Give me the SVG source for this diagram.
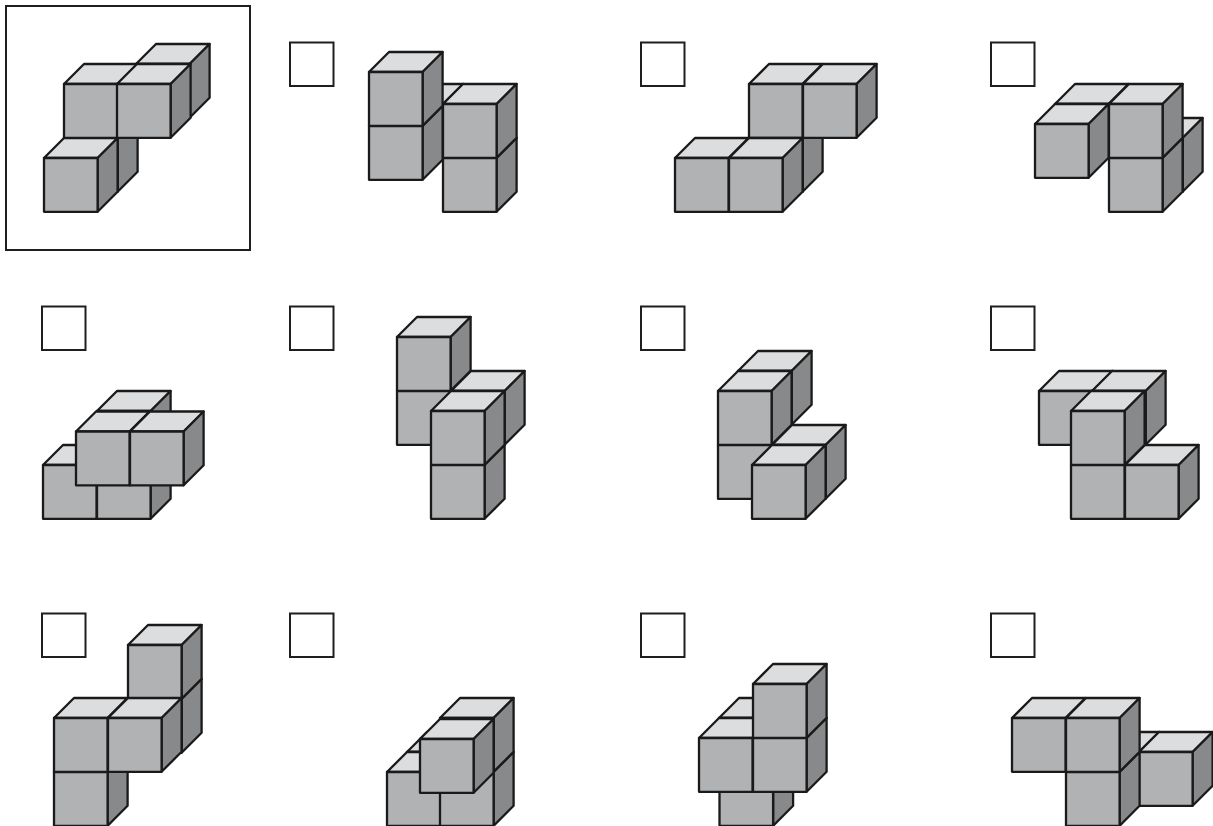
<svg xmlns="http://www.w3.org/2000/svg" xmlns:xlink="http://www.w3.org/1999/xlink" width="1213" height="826" viewBox="0 0 1213 826">
<style>
.f{fill:#b1b2b4}.t{fill:#dcddde}.s{fill:#88898b}
.c path{stroke:#1a1a1a;stroke-width:2.3;stroke-linejoin:round}
.b{fill:#fff;stroke:#1f1f1f;stroke-width:2}
.r{fill:#fff;stroke:#1f1f1f;stroke-width:2}
</style>
<defs>
<g id="c" class="c">
<path class="t" d="M0 0L20 -20H73.6L53.6 0Z"/>
<path class="s" d="M53.6 0L73.6 -20V33.8L53.6 53.8Z"/>
<path class="f" d="M0 0H53.6V53.8H0Z"/>
</g>
</defs>
<rect width="1213" height="826" fill="#fff"/>
<g id="reference"><rect class="r" x="6" y="6" width="244" height="244"/>
<use href="#c" x="136" y="64"/><use href="#c" x="64" y="138"/><use href="#c" x="44" y="158"/><use href="#c" x="64" y="84"/><use href="#c" x="117" y="84"/></g>
<g id="option-1"><rect class="b" x="290" y="42.5" width="43.5" height="43.5"/>
<use href="#c" x="389.5" y="104"/><use href="#c" x="443" y="158"/><use href="#c" x="443" y="104"/><use href="#c" x="369" y="126"/><use href="#c" x="369" y="72"/></g>
<g id="option-2"><rect class="b" x="641" y="42.5" width="43.5" height="43.5"/>
<use href="#c" x="749" y="138"/><use href="#c" x="749" y="84"/><use href="#c" x="803" y="84"/><use href="#c" x="675" y="158"/><use href="#c" x="729" y="158"/></g>
<g id="option-3"><rect class="b" x="991" y="42.5" width="43.5" height="43.5"/>
<use href="#c" x="1129" y="138"/><use href="#c" x="1055" y="104"/><use href="#c" x="1109" y="158"/><use href="#c" x="1109" y="104"/><use href="#c" x="1035" y="124"/></g>
<g id="option-4"><rect class="b" x="42" y="306.5" width="43.5" height="43.5"/>
<use href="#c" x="97" y="411"/><use href="#c" x="43" y="465"/><use href="#c" x="97" y="465"/><use href="#c" x="76" y="431.5"/><use href="#c" x="130" y="431.5"/></g>
<g id="option-5"><rect class="b" x="290" y="306.5" width="43.5" height="43.5"/>
<use href="#c" x="397" y="391"/><use href="#c" x="397" y="337"/><use href="#c" x="451" y="391"/><use href="#c" x="431" y="465"/><use href="#c" x="431" y="411"/></g>
<g id="option-6"><rect class="b" x="641" y="306.5" width="43.5" height="43.5"/>
<use href="#c" x="738" y="371"/><use href="#c" x="718" y="445"/><use href="#c" x="718" y="391"/><use href="#c" x="772" y="445"/><use href="#c" x="752" y="465"/></g>
<g id="option-7"><rect class="b" x="991" y="306.5" width="43.5" height="43.5"/>
<use href="#c" x="1039" y="391"/><use href="#c" x="1092" y="391"/><use href="#c" x="1071" y="465"/><use href="#c" x="1125" y="465"/><use href="#c" x="1071" y="411"/></g>
<g id="option-8"><rect class="b" x="42" y="613.5" width="43.5" height="43.5"/>
<use href="#c" x="128" y="699"/><use href="#c" x="128" y="645"/><use href="#c" x="54" y="772"/><use href="#c" x="54" y="718"/><use href="#c" x="108" y="718"/></g>
<g id="option-9"><rect class="b" x="290" y="613.5" width="43.5" height="43.5"/>
<use href="#c" x="407" y="752"/><use href="#c" x="387" y="772"/><use href="#c" x="440" y="772"/><use href="#c" x="440" y="718"/><use href="#c" x="420" y="739"/></g>
<g id="option-10"><rect class="b" x="641" y="613.5" width="43.5" height="43.5"/>
<use href="#c" x="719.5" y="772"/><use href="#c" x="719" y="718"/><use href="#c" x="699" y="738"/><use href="#c" x="753" y="738"/><use href="#c" x="753" y="684"/></g>
<g id="option-11"><rect class="b" x="991" y="613.5" width="43.5" height="43.5"/>
<use href="#c" x="1085.5" y="752"/><use href="#c" x="1139" y="752"/><use href="#c" x="1012" y="718"/><use href="#c" x="1066" y="772"/><use href="#c" x="1066" y="718"/></g>
</svg>
